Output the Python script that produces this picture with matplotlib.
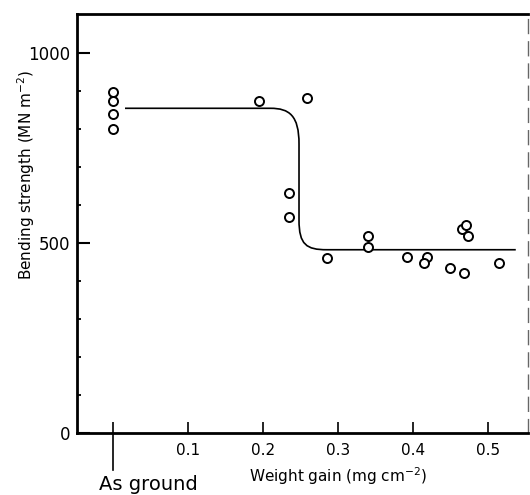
import matplotlib
matplotlib.use("Agg")
import matplotlib.pyplot as plt
from matplotlib.path import Path
from matplotlib.patches import PathPatch
import matplotlib.transforms as mtransforms

# ---- data ----
weight_gain = [0, 0, 0, 0, 0.195, 0.258, 0.235, 0.235, 0.285, 0.340, 0.340,
               0.392, 0.418, 0.415, 0.449, 0.465, 0.471, 0.473, 0.468, 0.515]
strength = [898, 872, 839, 799, 872, 880, 630, 569, 460, 518, 488,
            462, 462, 448, 434, 536, 547, 517, 422, 447]

# fitted step curve (knots and Bezier control points)
curve_x = [0.016, 0.21, 0.235, 0.248, 0.248, 0.248, 0.248, 0.258, 0.285, 0.537]
curve_y = [854, 854, 854, 835, 760, 560, 495, 482, 482, 482]
curve_codes = [Path.MOVETO, Path.LINETO, Path.CURVE4, Path.CURVE4, Path.CURVE4,
               Path.LINETO, Path.CURVE4, Path.CURVE4, Path.CURVE4, Path.LINETO]

xticks = [0, 0.1, 0.2, 0.3, 0.4, 0.5]
xticklabels = ["", "0.1", "0.2", "0.3", "0.4", "0.5"]
yticks = [0, 500, 1000]
yticklabels = ["0", "500", "1000"]
yminor = [100, 200, 300, 400, 600, 700, 800, 900]

W, H = 530, 495
fig = plt.figure(figsize=(W / 100, H / 100), dpi=100)
ax = fig.add_axes([77 / W, 1 - 433 / H, (528 - 77) / W, (433 - 14) / H])

ax.set_xlim(-0.048, 0.5533)
ax.set_ylim(0, 1102)

ax.plot(weight_gain, strength, linestyle="none", marker="o", ms=6.5,
        mfc="white", mec="black", mew=1.4, zorder=3)

path = Path(list(zip(curve_x, curve_y)), curve_codes)
ax.add_patch(PathPatch(path, facecolor="none", edgecolor="black", lw=1.2, zorder=2))

# spines
for s in ["left", "top", "bottom"]:
    ax.spines[s].set_linewidth(2.0)
    ax.spines[s].set_color("black")
ax.spines["right"].set_linewidth(1.0)
ax.spines["right"].set_color("#666666")
ax.spines["right"].set_linestyle((0, (10, 6)))

ax.set_xticks(xticks)
ax.set_xticklabels(xticklabels, fontsize=11)
ax.set_yticks(yticks)
ax.set_yticklabels(yticklabels, fontsize=12)
ax.set_yticks(yminor, minor=True)
ax.tick_params(axis="x", direction="in", length=8, width=1.2, pad=7)
ax.tick_params(axis="y", which="major", direction="in", length=9.5, width=1.5, pad=4.5)
ax.tick_params(axis="y", which="minor", direction="in", length=3, width=1.3)

# "As ground" long tick line below the axis
trans = mtransforms.blended_transform_factory(ax.transData, fig.transFigure)
ax.plot([0, 0], [1 - 433 / H, 1 - 470 / H], color="black", lw=1.2,
        transform=trans, clip_on=False)
fig.text(99 / W, 1 - 485 / H, "As ground", ha="left", va="center", fontsize=14)

ax.text(0.3, 1 - 476 / H, r"Weight gain (mg cm$^{-2}$)", transform=trans,
        ha="center", va="center", fontsize=11)

fig.text(26 / W, 1 - 175 / H, r"Bending strength (MN m$^{-2}$)", rotation=90,
         ha="center", va="center", fontsize=11)

fig.savefig("out.png", dpi=100)
